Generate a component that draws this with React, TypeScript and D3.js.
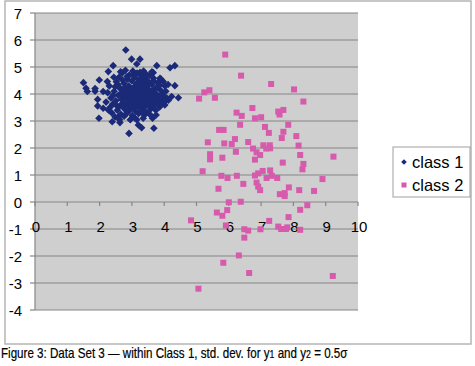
import React from "react";
import * as d3 from "d3";

const xTicks = [0, 1, 2, 3, 4, 5, 6, 7, 8, 9, 10];
const yTicks = [-4, -3, -2, -1, 0, 1, 2, 3, 4, 5, 6, 7];
const seriesNames = ["class 1", "class 2"];
const caption = "Figure 3: Data Set 3 — within Class 1, std. dev. for y";

// class 1: [x, y]
const class1: [number, number][] = [
  [2.81, 5.63], [1.5, 4.42], [1.58, 4.21], [1.62, 4.09], [1.86, 4.2], [1.86, 4.1], [1.99, 4.52],
  [2.42, 5.05], [2.27, 4.83], [2.99, 5.29], [3.25, 5.29], [3.15, 5.11], [3.77, 5.05], [4.18, 4.97],
  [4.33, 5.05], [3.66, 4.79], [3.87, 4.58], [3.97, 4.46], [4.02, 4.3], [4.33, 4.31], [4.44, 3.86],
  [4.23, 3.91], [4.13, 3.77], [4.02, 3.59], [1.94, 3.8], [1.94, 3.56], [1.98, 3.1], [2.11, 3.47],
  [2.27, 3.41], [2.39, 2.97], [2.63, 2.94], [2.91, 2.54], [3.2, 2.85], [3.3, 2.75], [3.68, 2.73],
  [3.64, 3.1], [2.58, 3.16], [3.1, 3.1], [3.38, 3.22], [2.11, 4.09], [2.24, 4.46], [2.48, 4.27],
  [2.35, 3.85], [2.4, 3.62], [2.45, 4.1], [2.5, 3.75], [2.52, 4.45], [2.55, 3.4], [2.58, 3.95],
  [2.6, 4.62], [2.62, 3.55], [2.65, 4.2], [2.66, 3.25], [2.68, 3.8], [2.7, 4.78], [2.72, 4.05],
  [2.74, 3.65], [2.75, 4.4], [2.77, 3.45], [2.78, 3.92], [2.8, 4.88], [2.82, 4.15], [2.83, 3.7],
  [2.85, 3.3], [2.86, 4.55], [2.88, 3.85], [2.9, 4.3], [2.91, 3.58], [2.92, 4.7], [2.94, 3.98],
  [2.95, 3.42], [2.96, 4.12], [2.98, 3.75], [3.0, 4.48], [3.01, 3.2], [3.02, 3.9], [3.03, 4.85],
  [3.05, 3.62], [3.06, 4.25], [3.08, 3.48], [3.09, 4.62], [3.1, 3.82], [3.11, 4.05], [3.12, 3.35],
  [3.14, 4.38], [3.15, 3.7], [3.16, 4.78], [3.18, 3.95], [3.19, 3.55], [3.2, 4.18], [3.21, 3.28],
  [3.22, 4.52], [3.24, 3.88], [3.25, 3.62], [3.26, 4.3], [3.28, 3.45], [3.29, 4.68], [3.3, 3.8],
  [3.31, 4.02], [3.33, 3.38], [3.34, 4.42], [3.35, 3.68], [3.36, 4.85], [3.38, 3.92], [3.4, 3.52],
  [3.41, 4.15], [3.42, 4.58], [3.44, 3.75], [3.45, 3.3], [3.46, 4.28], [3.48, 3.98], [3.5, 3.6],
  [3.52, 4.45], [3.53, 3.85], [3.55, 4.7], [3.56, 3.42], [3.58, 4.1], [3.6, 3.72], [3.62, 4.35],
  [3.64, 3.95], [3.65, 3.55], [3.67, 4.58], [3.7, 3.82], [3.72, 4.2], [3.74, 3.4], [3.76, 4.0],
  [3.78, 3.65], [3.8, 4.42], [3.83, 3.9], [3.86, 3.52], [3.88, 4.15], [3.92, 3.78], [3.95, 4.02],
  [3.98, 3.92], [4.05, 4.1], [4.08, 3.85], [2.3, 4.3], [2.38, 3.3], [2.44, 4.62], [2.48, 3.15],
  [2.52, 3.58], [2.56, 4.35], [2.62, 3.05], [2.64, 4.0], [2.69, 3.62], [2.71, 4.52], [2.76, 3.18],
  [2.79, 4.25], [2.84, 3.98], [2.87, 3.62], [2.89, 4.1], [2.93, 3.88], [2.97, 4.2], [2.99, 3.55],
  [3.04, 4.0], [3.07, 3.78], [3.13, 3.92], [3.17, 4.12], [3.23, 3.72], [3.27, 4.08], [3.32, 3.6],
  [3.37, 4.22], [3.39, 3.82], [3.43, 4.05], [3.47, 3.68], [3.51, 4.18], [3.54, 3.95], [3.59, 3.88],
  [3.63, 4.12], [3.68, 3.7], [3.73, 3.98], [3.79, 4.25], [3.85, 4.32], [3.9, 3.62], [2.95, 3.05],
  [3.15, 3.05], [3.35, 3.1], [3.55, 3.25], [3.75, 3.22], [2.85, 4.65], [3.05, 4.7], [3.25, 4.8],
  [3.45, 4.72], [3.62, 4.82], [2.65, 4.82], [3.9, 4.55], [4.0, 3.7], [4.12, 4.35], [2.2, 3.7],
  [2.25, 4.05], [2.32, 3.5], [2.42, 3.95], [2.6, 4.25], [2.78, 3.52], [3.0, 3.68], [3.18, 4.4],
  [3.28, 3.95], [3.48, 4.35], [3.66, 4.48], [3.82, 3.75], [3.1, 3.6], [2.9, 3.8], [3.2, 3.85],
  [3.4, 3.95], [3.0, 4.1], [3.3, 4.55],
];

// class 2: [x, y]
const class2: [number, number][] = [
  [5.89, 5.46], [6.38, 4.68], [7.31, 4.37], [8.02, 4.17], [8.31, 3.72], [5.08, 3.83], [5.24, 4.06],
  [5.4, 4.14], [5.57, 3.86], [6.73, 3.48], [6.24, 3.31], [6.4, 3.19], [6.81, 3.1], [7.0, 3.14],
  [7.53, 3.35], [7.69, 3.41], [7.57, 3.24], [6.35, 2.86], [7.12, 2.78], [7.24, 2.56], [7.84, 2.86],
  [5.7, 2.67], [5.84, 2.67], [7.69, 2.6], [7.64, 2.37], [8.09, 2.44], [6.19, 2.33], [6.09, 2.15],
  [5.35, 2.21], [5.86, 2.17], [6.6, 2.22], [6.75, 1.98], [7.07, 2.1], [7.27, 2.1], [7.16, 1.98],
  [7.28, 1.99], [8.16, 2.09], [6.22, 1.86], [6.86, 1.84], [6.97, 1.74], [5.42, 1.77], [5.42, 1.58],
  [5.8, 1.64], [6.81, 1.57], [8.21, 1.74], [9.24, 1.68], [7.67, 1.46], [8.31, 1.41], [8.28, 1.21],
  [5.19, 1.14], [5.77, 0.97], [5.96, 0.89], [6.25, 0.97], [6.81, 0.98], [6.91, 1.06], [7.05, 1.15],
  [7.28, 1.17], [7.33, 0.97], [7.17, 0.89], [7.5, 0.89], [8.9, 0.85], [5.68, 0.49], [6.45, 0.67],
  [6.86, 0.72], [6.91, 0.57], [6.97, 0.44], [7.58, 0.29], [7.73, 0.33], [7.73, 0.22], [7.86, 0.54],
  [8.18, 0.44], [8.64, 0.41], [6.0, -0.01], [6.37, 0.01], [8.43, -0.12], [5.63, -0.39], [5.8, -0.51],
  [5.95, -0.3], [4.83, -0.68], [8.21, -0.29], [7.85, -0.56], [7.25, -0.7], [5.91, -0.87], [6.48, -1.01],
  [6.6, -1.06], [6.48, -1.32], [6.98, -1.01], [7.53, -0.91], [7.62, -1.0], [7.77, -1.0], [7.81, -0.94],
  [8.21, -1.03], [6.31, -1.98], [5.83, -2.25], [6.63, -2.63], [9.22, -2.74], [5.06, -3.21],
];

const C1 = "#1b2a78";
const C2 = "#d65bac";
const FONT = "'Liberation Sans', Arial, sans-serif";

export default function App() {
  const x = d3.scaleLinear().domain([0, 10]).range([35, 358]);
  const y = d3.scaleLinear().domain([-4, 7]).range([310, 13]);
  const diamond = (r: number) => `M0,${-r}L${r},0L0,${r}L${-r},0Z`;
  const sq = 6;
  return (
    <svg
      width={475}
      height={366}
      style={{ position: "absolute", left: 0, top: 0, background: "#fff" }}
    >
      <rect x={5} y={1} width={466} height={343} fill="#fff" stroke="#b5b5b5" strokeWidth={1.5} />
      <rect x={x(0)} y={y(7)} width={x(10) - x(0)} height={y(-4) - y(7)} fill="#cfcfcf" />
      {yTicks.map((t) => (
        <line key={"g" + t} x1={x(0)} x2={x(10)} y1={y(t)} y2={y(t)} stroke="#868686" strokeWidth={1.2} />
      ))}
      <line x1={x(0)} x2={x(0)} y1={y(7)} y2={y(-4)} stroke="#868686" strokeWidth={1.2} />
      {yTicks.map((t) => (
        <g key={"yt" + t}>
          <line x1={x(0) - 5} x2={x(0)} y1={y(t)} y2={y(t)} stroke="#868686" strokeWidth={1.2} />
          <text x={22} y={y(t)} textAnchor="end" dominantBaseline="central" fontFamily={FONT} fontSize={15} fill="#000">
            {t}
          </text>
        </g>
      ))}
      {xTicks.map((t) => (
        <g key={"xt" + t}>
          <line x1={x(t)} x2={x(t)} y1={y(0)} y2={y(0) + 4} stroke="#868686" strokeWidth={1.2} />
          <text x={x(t) + 1} y={y(0) + 30} textAnchor="middle" fontFamily={FONT} fontSize={15} fill="#000">
            {t}
          </text>
        </g>
      ))}
      {class2.map(([a, b], i) => (
        <rect key={"c2" + i} x={x(a) - sq / 2} y={y(b) - sq / 2} width={sq} height={sq} fill={C2} />
      ))}
      {class1.map(([a, b], i) => (
        <path key={"c1" + i} d={diamond(3.8)} transform={`translate(${x(a)},${y(b)})`} fill={C1} />
      ))}
      <rect x={393} y={147} width={77} height={50} fill="#fff" stroke="#a0a0a0" strokeWidth={1} />
      <path d={diamond(2.8)} transform="translate(404,162)" fill={C1} />
      <rect x={401.5} y={182.5} width={5} height={5} fill={C2} />
      <text x={412} y={162} dominantBaseline="central" fontFamily={FONT} fontSize={16.5} fill="#000">
        {seriesNames[0]}
      </text>
      <text x={412} y={185} dominantBaseline="central" fontFamily={FONT} fontSize={16.5} fill="#000">
        {seriesNames[1]}
      </text>
      <g transform="translate(1,358) scale(0.8,1)">
        <text
          x={0}
          y={0}
          fontFamily={FONT}
          fontSize={14.5}
          fill="#000"
          stroke="#000"
          strokeWidth={0.2}
        >
          {caption}
          <tspan fontSize={11}>1</tspan>
          <tspan> and y</tspan>
          <tspan fontSize={11}>2</tspan>
          <tspan> = 0.5σ</tspan>
        </text>
      </g>
    </svg>
  );
}
